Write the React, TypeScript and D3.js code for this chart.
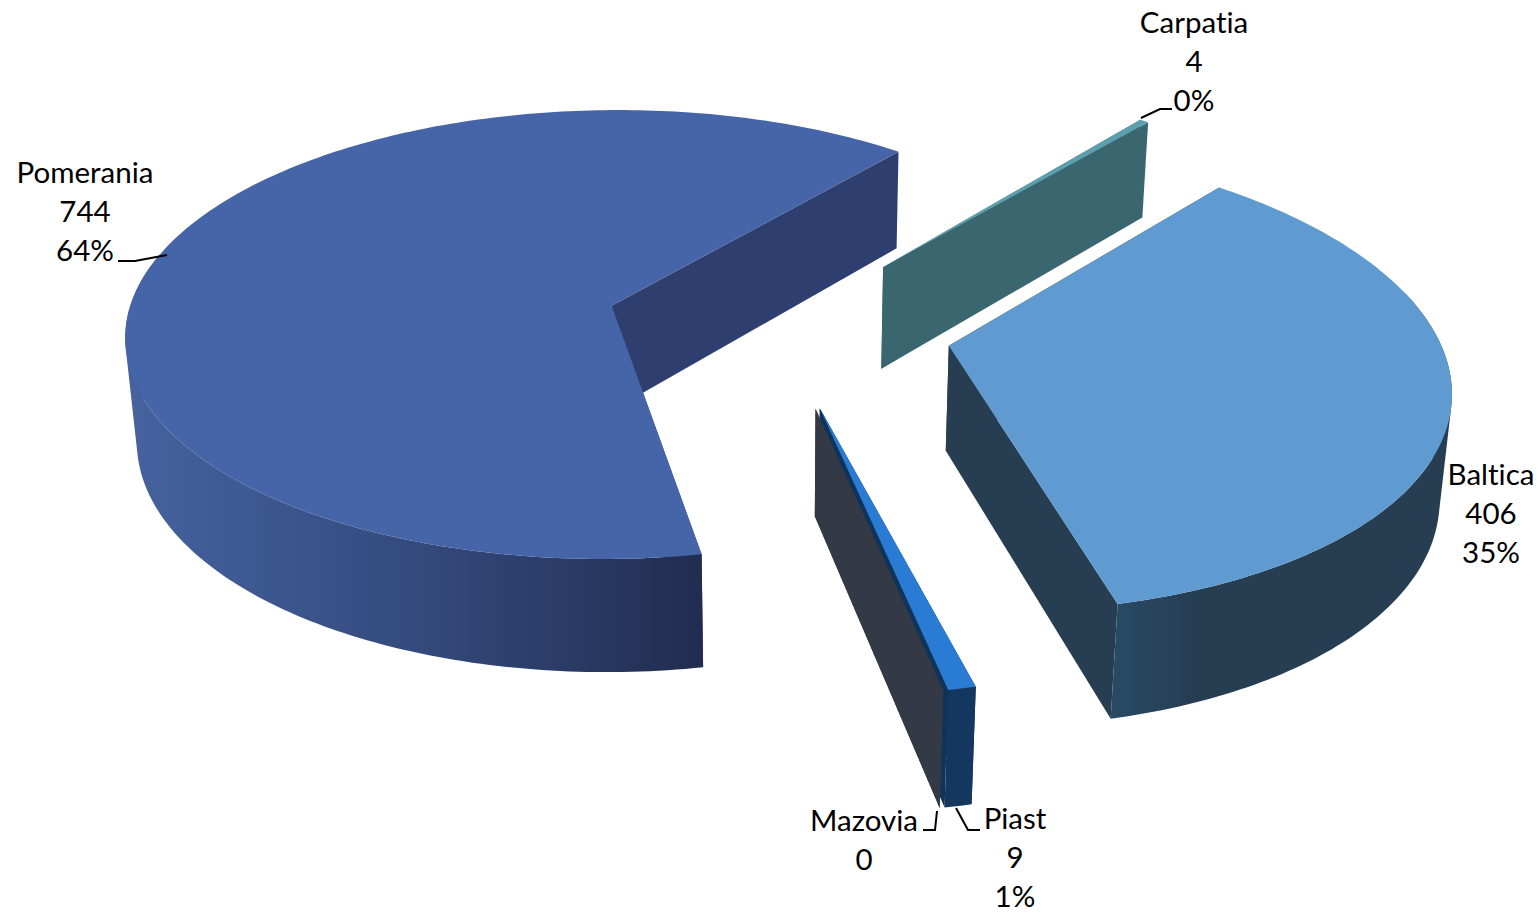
import * as d3 from "d3"

const categories = ["Pomerania", "Carpatia", "Baltica", "Piast", "Mazovia"]
const values = [744, 4, 406, 9, 0]

// colours per slice, same order as categories
const topColors = ["#4664a8", "#5c9fae", "#5f9bd1", "#2a7bd3", "#333a46"]
const cutColors = ["#2e3f6f", "#3a6670", "#263d52", "#0f3359", "#333a46"]

const width = 1538
const height = 913

// perspective camera for the 3D pie
const cx = 778
const cy = 326
const a = 487
const b = 226
const skew = 14
const k = 0.13
const depth = 106
const m = 0.018
const explode = 0.355

const project = (X: number, Y: number, Z: number): [number, number] => {
  const w = 1 - k * Y + m * Z
  return [cx + (a * X + skew * Y) / w, cy + (b * Y + depth * Z) / w]
}

const startAngle = (169.7 * Math.PI) / 180
const pie = d3
  .pie<number>()
  .sort(null)
  .startAngle(startAngle)
  .endAngle(startAngle + 2 * Math.PI)
const arcs = pie(values)
const total = d3.sum(values)
const pct = d3.format(".0%")
const line = d3.line<[number, number]>()

const closed = (pts: [number, number][]) => (pts.length ? line(pts) + "Z" : "")

const slices = arcs.map((d, i) => {
  const mid = (d.startAngle + d.endAngle) / 2
  const ox = explode * Math.sin(mid)
  const oy = -explode * Math.cos(mid)
  const rim = (t: number, z: number) => project(ox + Math.sin(t), oy - Math.cos(t), z)
  const steps = Math.max(2, Math.ceil((d.endAngle - d.startAngle) * 60))
  const angles = d3.range(steps + 1).map((j) => d.startAngle + ((d.endAngle - d.startAngle) * j) / steps)
  const apexTop = project(ox, oy, 0)
  const apexBottom = project(ox, oy, 1)
  const top = [apexTop, ...angles.map((t) => rim(t, 0))]
  const cutA = [apexTop, rim(d.startAngle, 0), rim(d.startAngle, 1), apexBottom]
  const cutB = [apexTop, rim(d.endAngle, 0), rim(d.endAngle, 1), apexBottom]
  // only the part of the outer wall that faces the viewer, one quad per step in a single path
  const front = angles.filter((t) => Math.cos(t) <= 0.25)
  const wall = d3
    .pairs(front)
    .map(([t0, t1]) => {
      const quad = [rim(t0, 0), rim(t1, 0), rim(t1, 1), rim(t0, 1)]
      return d3.polygonArea(quad) < 0 ? closed(quad) : closed(quad.reverse())
    })
    .join("")
  return { name: categories[i], i, top, cutA, cutB, wall }
})

const wallFill = ["url(#wallPomerania)", "#3a6670", "url(#wallBaltica)", "#14375f", "#333a46"]

// label layout
const labels = [
  { i: 0, x: 85, y: 183, percent: true },
  { i: 1, x: 1194, y: 33, percent: true },
  { i: 2, x: 1491, y: 485, percent: true },
  { i: 3, x: 1015, y: 829, percent: true },
  { i: 4, x: 864, y: 831, percent: false },
]
const leaders: [number, number][][] = [
  [[118, 261], [135, 261], [167, 255]],
  [[1141, 118], [1160, 109], [1172, 109]],
  [[923, 830], [935, 830], [937, 811]],
  [[956, 808], [968, 830], [980, 830]],
]

export default function App() {
  return (
    <svg
      width={width}
      height={height}
      style={{ position: "absolute", left: 0, top: 0, display: "block", background: "#fff" }}
    >
      <defs>
        <linearGradient id="wallPomerania" gradientUnits="userSpaceOnUse" x1={125} x2={702} y1={0} y2={0}>
          <stop offset="0" stopColor="#46639f" />
          <stop offset="0.5" stopColor="#344a7e" />
          <stop offset="1" stopColor="#212d50" />
        </linearGradient>
        <linearGradient id="wallBaltica" gradientUnits="userSpaceOnUse" x1={1110} x2={1200} y1={0} y2={0}>
          <stop offset="0" stopColor="#294a65" />
          <stop offset="1" stopColor="#263d52" />
        </linearGradient>
      </defs>
      {slices.map((s) => (
        <g key={s.name}>
          <path d={closed(s.cutA)} fill={cutColors[s.i]} />
          <path d={closed(s.cutB)} fill={cutColors[s.i]} />
          <path d={s.wall} fill={wallFill[s.i]} />
          <path d={closed(s.top)} fill={topColors[s.i]} />
        </g>
      ))}
      {leaders.map((l, i) => (
        <path key={i} d={line(l) ?? ""} fill="none" stroke="#000" strokeWidth={2} />
      ))}
      {labels.map((l) => (
        <text
          key={l.i}
          x={l.x}
          y={l.y}
          textAnchor="middle"
          fontFamily="Lato"
          fontSize={29.5}
          fill="#000"
          style={{ fontVariantLigatures: "none" }}
        >
          <tspan x={l.x}>{categories[l.i]}</tspan>
          <tspan x={l.x} dy={39}>
            {values[l.i]}
          </tspan>
          {l.percent && (
            <tspan x={l.x} dy={39}>
              {pct(values[l.i] / total)}
            </tspan>
          )}
        </text>
      ))}
    </svg>
  )
}
